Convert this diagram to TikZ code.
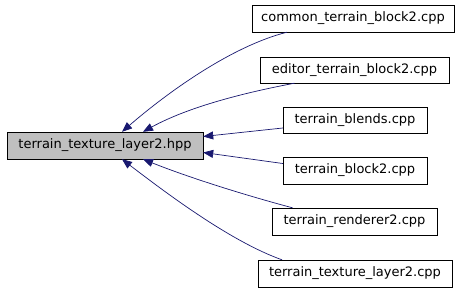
\documentclass[tikz,border=0pt]{standalone}
\usepackage{fontspec}
\setmainfont{DejaVu Sans}
\usepackage{tikz}
\usetikzlibrary{arrows.meta,positioning,calc}
\usepackage{xcolor}
\definecolor{edgeblue}{HTML}{191970}
\definecolor{hdrgray}{HTML}{BFBFBF}

\tikzset{
    file/.style={draw=black, fill=white, inner sep=0pt, minimum height=27pt, font=\fontsize{13}{15}\selectfont},
    header/.style={file, fill=hdrgray},
    dep/.style={draw=edgeblue, line width=0.7pt, -{Triangle[length=10pt,width=8pt]}}
}

\begin{document}
\begin{tikzpicture}[x=1pt, y=-1pt]
    \useasboundingbox (0,0) rectangle (464,290);

    \node[header, minimum width=196pt] (layer) at (105,145.5) {terrain\_texture\_layer2.hpp};

    \node[file, minimum width=202pt] (common) at (353,18.5) {common\_terrain\_block2.cpp};
    \node[file, minimum width=189pt, minimum height=26pt] (editor) at (354.5,70) {editor\_terrain\_block2.cpp};
    \node[file, minimum width=144pt, minimum height=26pt] (blends) at (355,120) {terrain\_blends.cpp};
    \node[file, minimum width=144pt] (block) at (355,170.5) {terrain\_block2.cpp};
    \node[file, minimum width=165pt] (renderer) at (354.5,221.5) {terrain\_renderer2.cpp};
    \node[file, minimum width=194pt] (texlayer) at (355,273.5) {terrain\_texture\_layer2.cpp};

    % includes, pointing back at the header
    \draw[dep] ([xshift=-66pt]common.south) .. controls (232,46) and (168,92) .. ([xshift=17pt]layer.north);
    \draw[dep] ([xshift=-60pt]editor.south) .. controls (248,92) and (190,106) .. ([xshift=38pt]layer.north);
    \draw[dep] ([yshift=-8pt]blends.west) -- ([yshift=9pt]layer.east);
    \draw[dep] ([yshift=7pt]block.west) -- ([yshift=-7pt]layer.east);
    \draw[dep] ([xshift=-62pt]renderer.north) .. controls (248,196) and (190,178) .. ([xshift=38pt]layer.south);
    \draw[dep] ([xshift=-73pt]texlayer.north) .. controls (232,242) and (170,196) .. ([xshift=17pt]layer.south);
\end{tikzpicture}
\end{document}
